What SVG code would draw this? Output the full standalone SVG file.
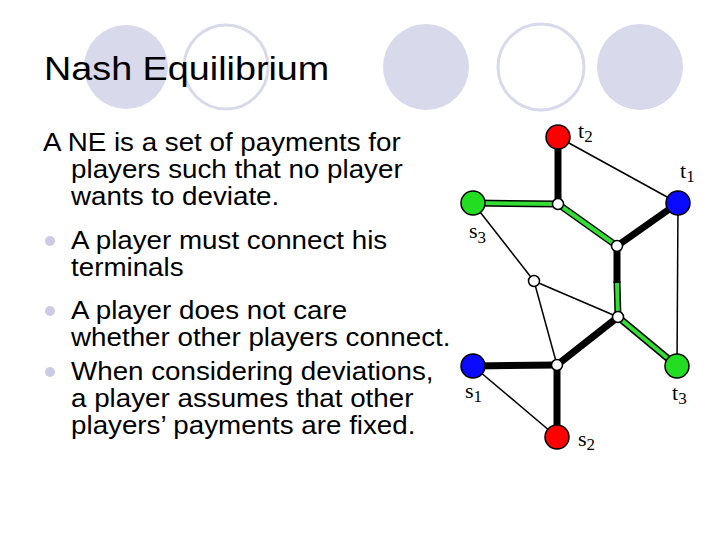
<svg xmlns="http://www.w3.org/2000/svg" width="720" height="540" viewBox="0 0 720 540">
<style>
.deco{fill:#d9d9ec}
.ring{fill:none;stroke:#d9d9ec;stroke-width:3}
.title{font-family:"Liberation Sans",Arial,sans-serif;font-size:33px;fill:#000}
.body{font-family:"Liberation Sans",Arial,sans-serif;font-size:25px;fill:#000}
.bul{fill:#cbcbe6}
.lab{font-family:"Liberation Serif","Times New Roman",serif;font-size:22px;fill:#000}
.sub{font-size:17px}
.thin{stroke:#000;stroke-width:1.5;fill:none}
.thick{stroke:#000;stroke-width:7;fill:none}
.gout{stroke:#000;stroke-width:7;fill:none}
.gin{stroke:#33dd33;stroke-width:4;fill:none}
.term{stroke:#000;stroke-width:1.5}
.junc{fill:#fff;stroke:#000;stroke-width:1.5}
</style>
<rect width="720" height="540" fill="#fff"/>
<g id="decor">
<circle class="deco" cx="126" cy="67" r="42"/>
<circle class="ring" cx="226" cy="67" r="42"/>
<circle class="deco" cx="426" cy="67" r="43"/>
<circle class="ring" cx="541" cy="67" r="43"/>
<circle class="deco" cx="640" cy="67" r="43"/>
</g>
<g transform="scale(1.144,1)">
<text class="title" x="38.5" y="80">Nash Equilibrium</text>
</g>
<g id="bullets">
<circle class="bul" cx="50" cy="241" r="5"/>
<circle class="bul" cx="50" cy="311" r="5"/>
<circle class="bul" cx="50" cy="372" r="5"/>
</g>
<g class="body" transform="scale(1.11,1)">
<text x="38.7" y="151">A NE is a set of payments for</text>
<text x="64" y="178">players such that no player</text>
<text x="64" y="205">wants to deviate.</text>
<text x="64" y="249">A player must connect his</text>
<text x="64" y="276">terminals</text>
<text x="64" y="319">A player does not care</text>
<text x="64" y="346">whether other players connect.</text>
<text x="64" y="380">When considering deviations,</text>
<text x="64" y="407">a player assumes that other</text>
<text x="64" y="434">players’ payments are fixed.</text>
</g>
<g id="connectors">
<line class="thin" x1="558" y1="137" x2="678" y2="203"/>
<line class="thin" x1="678" y1="203" x2="677" y2="366"/>
<line class="thin" x1="473" y1="203" x2="534" y2="281"/>
<line class="thin" x1="534" y1="281" x2="618" y2="317"/>
<line class="thin" x1="534" y1="281" x2="557" y2="365"/>
<line class="thin" x1="473" y1="366" x2="557" y2="437"/>
<line class="thick" x1="558" y1="137" x2="558" y2="204"/>
<line class="thick" x1="617" y1="246" x2="678" y2="203" stroke-width="8"/>
<line class="thick" x1="617" y1="246" x2="617" y2="283"/>
<line class="thick" x1="618" y1="317" x2="557" y2="365" stroke-width="8"/>
<line class="thick" x1="473" y1="366" x2="557" y2="365"/>
<line class="thick" x1="557" y1="365" x2="557" y2="437"/>
<line class="gout" x1="473" y1="203" x2="558" y2="204"/>
<line class="gout" x1="558" y1="204" x2="617" y2="246"/>
<line class="gout" x1="617" y1="281" x2="618" y2="317"/>
<line class="gout" x1="618" y1="317" x2="677" y2="366"/>
<line class="gin" x1="473" y1="203" x2="558" y2="204"/>
<line class="gin" x1="558" y1="204" x2="617" y2="246"/>
<line class="gin" x1="617" y1="283" x2="618" y2="317"/>
<line class="gin" x1="618" y1="317" x2="677" y2="366"/>
</g>
<g id="t2"><circle class="term" cx="558" cy="137" r="12" fill="#ff0000"/><text class="lab" x="578" y="138">t<tspan class="sub" dy="4">2</tspan></text></g>
<g id="t1"><circle class="term" cx="678" cy="203" r="12" fill="#0a0aff"/><text class="lab" x="680" y="178">t<tspan class="sub" dy="4">1</tspan></text></g>
<g id="s3"><circle class="term" cx="473" cy="203" r="12" fill="#22dd22"/><text class="lab" x="469" y="238">s<tspan class="sub" dy="5">3</tspan></text></g>
<g id="s1"><circle class="term" cx="473" cy="366" r="12" fill="#0a0aff"/><text class="lab" x="465" y="398">s<tspan class="sub" dy="4">1</tspan></text></g>
<g id="s2"><circle class="term" cx="557" cy="437" r="12" fill="#ff0000"/><text class="lab" x="578" y="446">s<tspan class="sub" dy="4">2</tspan></text></g>
<g id="t3"><circle class="term" cx="677" cy="366" r="12" fill="#22dd22"/><text class="lab" x="672" y="400">t<tspan class="sub" dy="4">3</tspan></text></g>
<g id="j1"><circle class="junc" cx="558" cy="204" r="5.5"/></g>
<g id="j2"><circle class="junc" cx="617" cy="246" r="5.5"/></g>
<g id="j3"><circle class="junc" cx="618" cy="317" r="5.5"/></g>
<g id="j4"><circle class="junc" cx="534" cy="281" r="5.5"/></g>
<g id="j5"><circle class="junc" cx="557" cy="365" r="5.5"/></g>
</svg>
